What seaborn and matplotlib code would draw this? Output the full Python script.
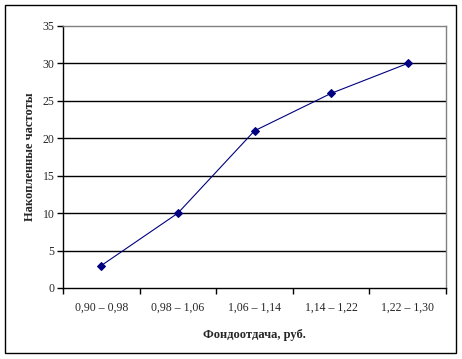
import matplotlib
matplotlib.use("Agg")
import matplotlib.pyplot as plt
import seaborn as sns
import pandas as pd
from matplotlib.patches import Rectangle
from matplotlib.ticker import FixedLocator, NullFormatter

categories = ["0,90 – 0,98", "0,98 – 1,06", "1,06 – 1,14", "1,14 – 1,22", "1,22 – 1,30"]
values = [3, 10, 21, 26, 30]
y_ticks = [0, 5, 10, 15, 20, 25, 30, 35]

sns.set_theme(style="white")
plt.rcParams['font.family'] = ['Liberation Serif', 'DejaVu Serif']

df = pd.DataFrame({"pos": range(len(categories)), "val": values})

fig = plt.figure(figsize=(4.62, 3.59), dpi=100)
ax = fig.add_axes([63/462, 1-288/359, (446-63)/462, (288-26)/359])

for y in y_ticks[1:-1]:
    ax.axhline(y, color="black", lw=1, zorder=1)

sns.lineplot(data=df, x="pos", y="val", ax=ax, color="#000080", lw=0.8,
             marker="D", markersize=3.8, markeredgecolor="#000080", zorder=3)

ax.set_xlim(-0.5, len(categories)-0.5)
ax.set_ylim(0, 35)
ax.set_yticks(y_ticks)
ax.set_yticklabels([str(v) for v in y_ticks], fontsize=8.5)
ax.xaxis.set_major_locator(FixedLocator([i - 0.5 for i in range(len(categories)+1)]))
ax.xaxis.set_major_formatter(NullFormatter())
ax.xaxis.set_minor_locator(FixedLocator(list(range(len(categories)))))
ax.set_xticklabels(categories, minor=True, fontsize=8.5)
ax.tick_params(axis="x", which="major", direction="out", length=4, width=1, color="black", bottom=True)
ax.tick_params(axis="x", which="minor", length=0, pad=10, bottom=True)
ax.tick_params(axis="y", direction="out", length=4, width=1, color="black", left=True, pad=2)

for s in ["left", "bottom"]:
    ax.spines[s].set_color("black")
    ax.spines[s].set_linewidth(1)
for s in ["top", "right"]:
    ax.spines[s].set_color("#808080")
    ax.spines[s].set_linewidth(1)

ax.set_xlabel("Фондоотдача, руб.", fontsize=9, fontweight="bold", labelpad=11)
ax.set_ylabel("Накопленные частоты", fontsize=9, fontweight="bold", labelpad=5)

fig.patches.append(Rectangle((5/462, 6/359), 451/462, 348/359, transform=fig.transFigure,
                             fill=False, edgecolor="black", lw=1))

fig.savefig("out.png", dpi=100)
